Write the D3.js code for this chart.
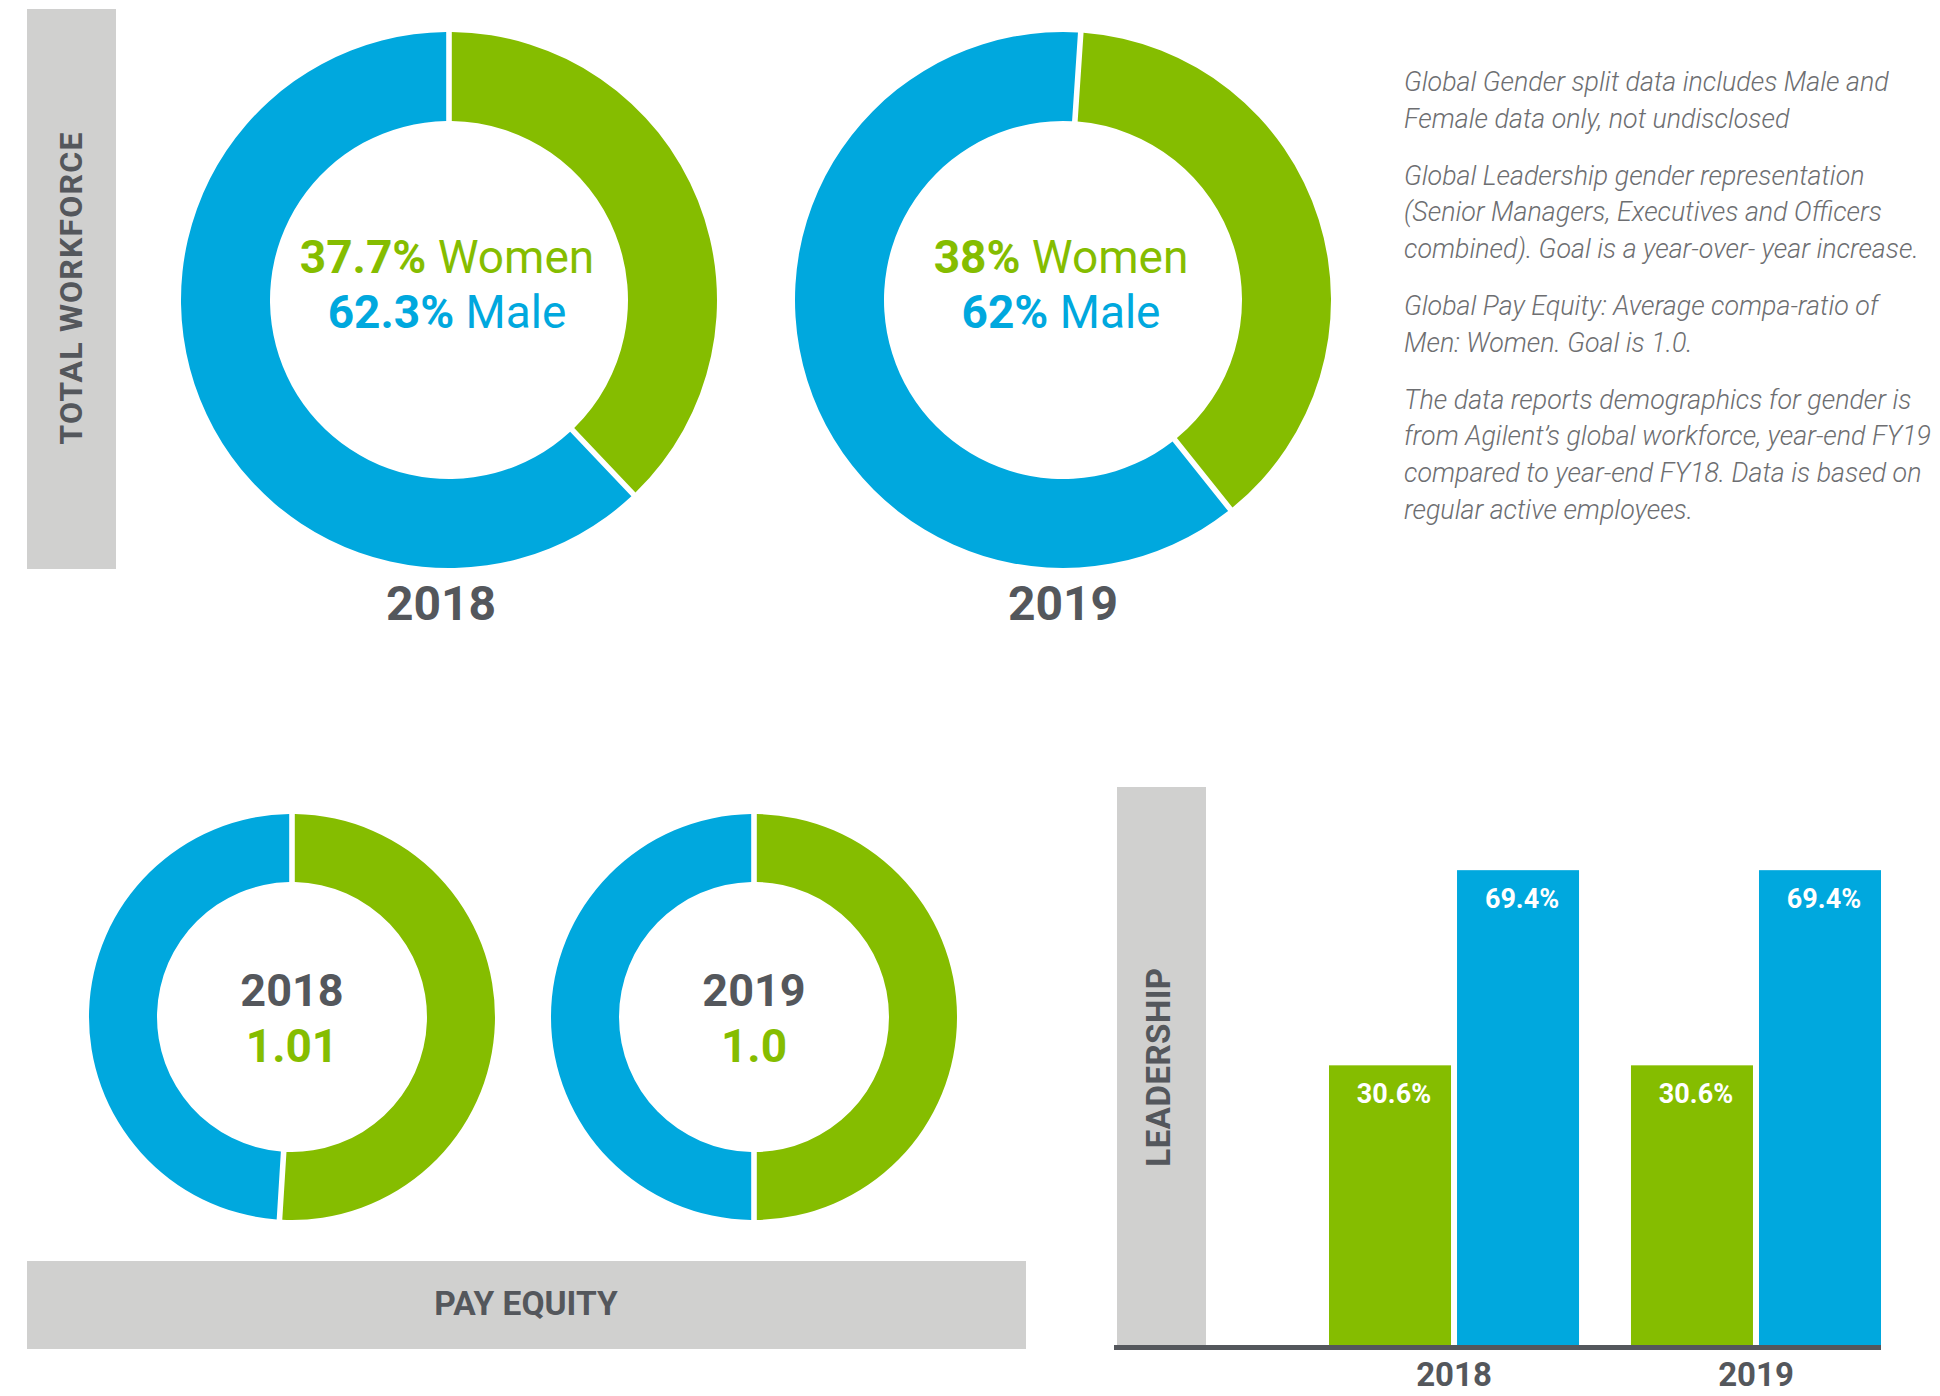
<!DOCTYPE html>
<html>
<head>
<meta charset="utf-8">
<script src="https://cdn.jsdelivr.net/npm/d3@7"></script>
<style>
  body { margin: 0; background: #fff; }
  svg { display: block; font-family: Roboto, "Noto Sans", sans-serif; }
</style>
</head>
<body>
<svg id="chart"></svg>
<script>
// ---- data ----
var years = ['2018', '2019'];
var workforceWomen = [37.7, 38];
var workforceMale = [62.3, 62];
var workforceTurn = [0, 3.8];          // degrees the 2019 ring is turned
var payEquityRatio = ['1.01', '1.0'];
var payWomenShare = [51, 50];
var payMenShare = [49, 50];
var leadWomen = [30.6, 30.6];
var leadMen = [69.4, 69.4];
var notes = [
    ['Global Gender split data includes Male and', 'Female data only, not undisclosed'],
    ['Global Leadership gender representation', '(Senior Managers, Executives and Officers', 'combined). Goal is a year-over- year increase.'],
    ['Global Pay Equity: Average compa-ratio of', 'Men: Women. Goal is 1.0.'],
    ['The data reports demographics for gender is', 'from Agilent\u2019s global workforce, year-end FY19', 'compared to year-end FY18. Data is based on', 'regular active employees.']
];

const W = 1940, H = 1396
const green = '#85bd00', blue = '#00a8de', grey = '#d0d0cf', dark = '#54575c'

const svg = d3.select('#chart')
    .attr('width', W)
    .attr('height', H)
    .attr('viewBox', [0, 0, W, H]);

// grey side panels
svg.append('rect').attr('x', 27).attr('y', 9).attr('width', 89).attr('height', 560).attr('fill', grey);
svg.append('rect').attr('x', 1117).attr('y', 787).attr('width', 89).attr('height', 558).attr('fill', grey);
svg.append('rect').attr('x', 27).attr('y', 1261).attr('width', 999).attr('height', 88).attr('fill', grey);

svg.append('text')
    .attr('transform', 'translate(82,288) rotate(-90)')
    .attr('text-anchor', 'middle')
    .attr('fill', dark)
    .style('font', 'bold 32px Roboto')
    .style('letter-spacing', '1.2px')
    .text('TOTAL WORKFORCE');

svg.append('text')
    .attr('transform', 'translate(1170,1067) rotate(-90)')
    .attr('text-anchor', 'middle')
    .attr('fill', dark)
    .style('font', 'bold 33px Roboto')
    .style('letter-spacing', '0.5px')
    .text('LEADERSHIP');

svg.append('text')
    .attr('x', 526).attr('y', 1315)
    .attr('text-anchor', 'middle')
    .attr('fill', dark)
    .style('font', 'bold 33.5px Roboto')
    .text('PAY EQUITY');

// ---- total workforce donuts ----
const pie = d3.pie().sort(null).value(d => d.value).padAngle(0.056);
const bigArc = d3.arc().innerRadius(179).outerRadius(268).padRadius(100);
const wfCenters = [[449, 300], [1063, 300]];

years.forEach(function (yr, i) {
    let turn = workforceTurn[i] * Math.PI / 180;
    let parts = [
        { key: 'women', value: workforceWomen[i], color: green },
        { key: 'male', value: workforceMale[i], color: blue }
    ];
    let g = svg.append('g').attr('transform', `translate(${wfCenters[i]})`);
    g.selectAll('path')
        .data(pie.startAngle(turn).endAngle(turn + 2 * Math.PI)(parts))
        .join('path')
        .attr('d', bigArc)
        .attr('fill', d => d.data.color);

    let t1 = g.append('text').attr('x', -2).attr('y', -27).attr('text-anchor', 'middle')
        .attr('fill', green).style('font-size', '46px');
    t1.append('tspan').style('font-weight', 'bold').text(workforceWomen[i] + '%');
    t1.append('tspan').text(' Women');

    let t2 = g.append('text').attr('x', -2).attr('y', 28).attr('text-anchor', 'middle')
        .attr('fill', blue).style('font-size', '46px');
    t2.append('tspan').style('font-weight', 'bold').text(workforceMale[i] + '%');
    t2.append('tspan').text(' Male');

    g.append('text').attr('x', i == 0 ? -8 : 0).attr('y', 320).attr('text-anchor', 'middle')
        .attr('fill', dark).style('font', 'bold 48px Roboto')
        .text(yr);
});

// ---- pay equity donuts ----
const smallArc = d3.arc().innerRadius(135).outerRadius(203).padRadius(100);
const payCenters = [[292, 1017], [754, 1017]];

years.forEach(function (yr, i) {
    let parts = [
        { key: 'women', value: payWomenShare[i], color: green },
        { key: 'men', value: payMenShare[i], color: blue }
    ];
    let g = svg.append('g').attr('transform', `translate(${payCenters[i]})`);
    g.selectAll('path')
        .data(pie.startAngle(0).endAngle(2 * Math.PI)(parts))
        .join('path')
        .attr('d', smallArc)
        .attr('fill', d => d.data.color);
    g.append('text').attr('y', -11).attr('text-anchor', 'middle')
        .attr('fill', dark).style('font', 'bold 45px Roboto').text(yr);
    g.append('text').attr('y', 45).attr('text-anchor', 'middle')
        .attr('fill', green).style('font', 'bold 46px Roboto').text(payEquityRatio[i]);
});

// ---- leadership bars ----
const lead = years.map((yr, i) => ({ year: yr, women: leadWomen[i], men: leadMen[i] }));
const keys = ['women', 'men'];
const colors = { women: green, men: blue };

const x = d3.scaleBand().domain(years).range([1329, 1881]).paddingInner(0.172).paddingOuter(0);
const xs = d3.scaleBand().domain(keys).range([0, x.bandwidth()]).paddingInner(0.047);
const y = d3.scaleLinear().domain([-25, 75]).range([1345, 842]);

let groups = svg.append('g').selectAll('g')
    .data(lead)
    .join('g')
    .attr('transform', d => `translate(${x(d.year)},0)`);

groups.selectAll('rect')
    .data(d => keys.map(k => ({ key: k, value: d[k] })))
    .join('rect')
    .attr('x', d => xs(d.key))
    .attr('width', xs.bandwidth())
    .attr('y', d => y(d.value))
    .attr('height', d => y(-25) - y(d.value))
    .attr('fill', d => colors[d.key]);

groups.selectAll('text')
    .data(d => keys.map(k => ({ key: k, value: d[k] })))
    .join('text')
    .attr('x', d => xs(d.key) + xs.bandwidth() / 2 + 4)
    .attr('y', d => y(d.value) + 38)
    .attr('text-anchor', 'middle')
    .attr('fill', '#fff')
    .style('font', 'bold 27px Roboto')
    .text(d => d.value + '%');

svg.append('line')
    .attr('x1', 1114).attr('x2', x.range()[1])
    .attr('y1', y(-25) + 2.5).attr('y2', y(-25) + 2.5)
    .attr('stroke', dark).attr('stroke-width', 5);

const xAxis = svg.append('g')
    .attr('transform', `translate(0,${y(-25) + 5})`)
    .call(d3.axisBottom(x).tickSize(0).tickPadding(0));
xAxis.select('.domain').remove();
xAxis.selectAll('text')
    .attr('dy', 0)
    .attr('y', 36)
    .attr('fill', dark)
    .style('font', 'bold 33px Roboto');

// ---- notes on the right ----
let lineNo = 0;
notes.forEach(function (para, p) {
    para.forEach(function (line) {
        svg.append('text')
            .attr('x', 1404)
            .attr('y', 91 + lineNo * 36.8 + p * 20)
            .attr('fill', '#6d6e71')
            .style('font', 'italic 300 26.8px Roboto')
            .text(line);
        lineNo++;
    });
});
</script>
</body>
</html>
